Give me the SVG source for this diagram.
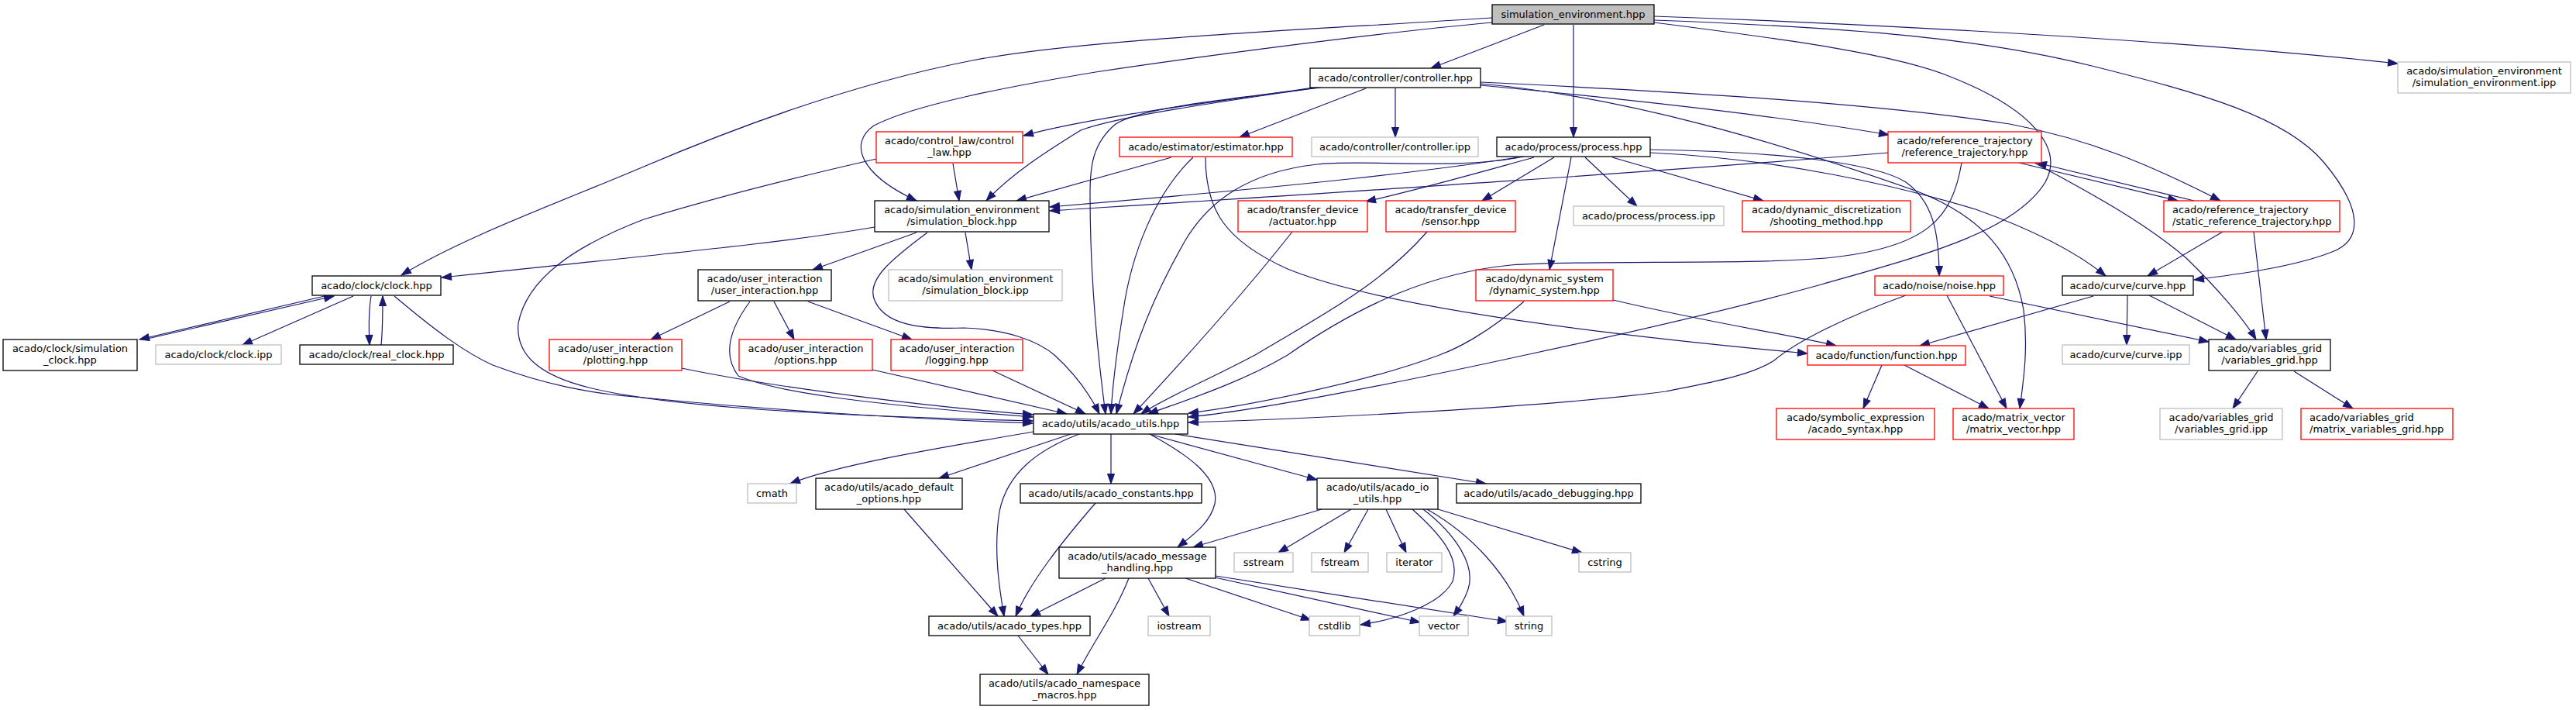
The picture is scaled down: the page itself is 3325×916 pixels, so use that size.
<svg xmlns="http://www.w3.org/2000/svg" width="3325" height="916" viewBox="0 0 3325 916">
<style>
text{font-family:"DejaVu Sans","Liberation Sans",sans-serif;font-size:13px;fill:#000;text-anchor:middle}
text.l{text-anchor:start}
rect{fill:#fff;stroke-width:1.3}
.k rect{stroke:#000}
.g rect{stroke:#bfbfbf}
.r rect{stroke:#ff0000}
.t rect{fill:#bfbfbf;stroke:#000}
#edges path{fill:none;stroke:#191970;stroke-width:1.2;marker-end:url(#ah)}
</style>
<defs>
<marker id="ah" markerUnits="userSpaceOnUse" markerWidth="14" markerHeight="11" refX="12.5" refY="4.5" orient="auto" overflow="visible">
<path d="M0,0 L12.5,4.5 L0,9 z" fill="#191970" stroke="#191970" stroke-width="1"/>
</marker>
</defs>
<rect x="0" y="0" width="3325" height="916" style="fill:#fff;stroke:none"/>
<g id="edges">
<path d="M1926,23 C1700,38 1400,50 1255,78 C1110,106 960,160 831,215 C720,262 600,305 518,355"/>
<path d="M1926,29 C1750,45 1500,80 1414,93 C1300,112 1180,135 1128,162 C1095,185 1110,225 1183,259"/>
<path d="M1993,32 L1847,88"/>
<path d="M2031,32 L2031,177"/>
<path d="M2135,21 C2450,32 2850,55 3095,82"/>
<path d="M2135,26 C2400,36 2560,50 2700,85 C2840,120 2950,150 3000,210 C3050,270 3050,310 3010,325 C2960,345 2880,355 2832,361"/>
<path d="M2135,29 C2300,50 2450,70 2520,100 C2620,140 2665,190 2640,235 C2600,300 2480,330 2351,367 C2250,395 2100,430 1969,458 C1800,495 1620,530 1534,538"/>
<path d="M1695,113 C1600,128 1420,148 1321,175"/>
<path d="M1700,113 C1600,128 1450,148 1395,168 C1360,190 1310,220 1273,259"/>
<path d="M1705,113 C1580,128 1470,140 1440,160 C1410,185 1407,215 1407,250 C1407,340 1413,430 1427,534"/>
<path d="M1763,114 L1600,177"/>
<path d="M1801,114 L1801,177"/>
<path d="M1911,110 C2100,128 2300,150 2438,174"/>
<path d="M1911,106 C2100,115 2400,130 2594,160 C2700,180 2780,215 2866,259"/>
<path d="M1911,108 C2100,125 2300,185 2475,247 C2560,280 2600,330 2612,400 C2618,450 2612,490 2607,527"/>
<path d="M1959,203 C1850,220 1700,238 1355,267"/>
<path d="M2438,197 C2100,225 1700,250 1355,272"/>
<path d="M1980,203 C1900,225 1830,245 1763,260"/>
<path d="M2006,203 L1913,259"/>
<path d="M2046,203 L2113,266"/>
<path d="M2081,203 L2276,259"/>
<path d="M2028,203 L2000,348"/>
<path d="M2130,193 C2300,196 2420,210 2460,235 C2495,260 2503,300 2503,356"/>
<path d="M2130,197 C2300,205 2450,240 2550,270 C2620,295 2680,325 2718,356"/>
<path d="M1967,202 C1880,220 1760,205 1700,212 C1610,222 1560,260 1530,310 C1490,380 1465,440 1441,534"/>
<path d="M1668,299 C1620,360 1560,430 1463,534"/>
<path d="M1842,299 C1780,370 1700,410 1620,458 C1560,490 1500,515 1473,534"/>
<path d="M1967,389 C1920,430 1880,450 1858,458 C1760,495 1600,525 1534,533"/>
<path d="M2082,387 C2200,415 2300,430 2370,446"/>
<path d="M1512,203 L1312,259"/>
<path d="M1540,203 C1490,250 1460,330 1450,400 C1442,450 1436,495 1434,534"/>
<path d="M1556,203 C1556,270 1580,310 1662,347 C1780,395 2050,430 2333,456"/>
<path d="M2532,210 C2520,280 2490,320 2357,333 C2250,342 2050,335 1950,342 C1850,352 1760,390 1662,458 C1600,495 1520,520 1482,534"/>
<path d="M2606,210 L2811,259"/>
<path d="M2832,259 L2629,210"/>
<path d="M2626,210 C2680,240 2760,280 2822,333 C2860,370 2895,410 2912,438"/>
<path d="M2869,299 L2772,356"/>
<path d="M2909,299 L2925,438"/>
<path d="M2746,381 L2745,445"/>
<path d="M2774,381 L2886,438"/>
<path d="M2702,382 L2478,446"/>
<path d="M2460,381 C2380,410 2320,440 2290,465 C2260,485 2200,495 2150,505 C2000,525 1700,540 1534,545"/>
<path d="M2513,381 L2590,527"/>
<path d="M2568,382 L2851,441"/>
<path d="M2429,471 L2405,527"/>
<path d="M2458,471 L2567,527"/>
<path d="M2914,479 L2882,527"/>
<path d="M2961,479 L3037,527"/>
<path d="M1129,293 C1000,315 850,328 570,358"/>
<path d="M1183,300 L1049,348"/>
<path d="M1246,300 L1254,348"/>
<path d="M1197,300 C1150,335 1120,360 1128,385 C1140,420 1190,425 1244,423 C1300,425 1340,440 1361,458 C1385,480 1405,505 1419,534"/>
<path d="M1230,211 L1238,259"/>
<path d="M1131,205 C1000,235 900,262 831,283 C740,318 680,360 669,417 C665,460 700,485 760,500 C840,520 1000,535 1333,543"/>
<path d="M509,382 C560,425 600,455 636,471 C700,495 760,508 831,513 C950,525 1150,540 1333,546"/>
<path d="M419,382 L180,438"/>
<path d="M186,438 L431,382"/>
<path d="M456,382 L313,445"/>
<path d="M479,382 C476,400 476,425 477,445"/>
<path d="M492,445 C494,425 494,400 494,382"/>
<path d="M942,389 L840,438"/>
<path d="M999,389 L1025,438"/>
<path d="M1043,389 L1177,438"/>
<path d="M968,389 C945,420 930,455 953,485 C1000,505 1100,520 1333,538"/>
<path d="M880,475 C1000,500 1200,525 1333,535"/>
<path d="M1126,477 L1377,534"/>
<path d="M1281,478 L1401,534"/>
<path d="M1434,560 L1434,624"/>
<path d="M1484,560 C1530,585 1575,615 1568,650 C1562,675 1540,690 1520,706"/>
<path d="M1487,561 L1700,619"/>
<path d="M1517,560 L1918,624"/>
<path d="M1393,560 C1340,580 1300,610 1290,660 C1282,710 1290,760 1296,795"/>
<path d="M1382,560 L1212,617"/>
<path d="M1334,557 C1200,580 1080,600 1020,624"/>
<path d="M1706,657 L1540,706"/>
<path d="M1744,657 L1650,713"/>
<path d="M1766,657 L1735,713"/>
<path d="M1789,657 L1815,713"/>
<path d="M1823,657 C1860,690 1885,720 1875,750 C1860,780 1800,800 1756,806"/>
<path d="M1837,657 C1880,690 1905,730 1895,760 C1890,775 1883,785 1876,795"/>
<path d="M1842,657 C1900,690 1945,740 1967,795"/>
<path d="M1856,657 L2042,713"/>
<path d="M1427,746 L1330,795"/>
<path d="M1457,746 C1440,790 1410,830 1390,870"/>
<path d="M1482,746 L1509,795"/>
<path d="M1530,746 L1692,800"/>
<path d="M1568,745 L1833,803"/>
<path d="M1569,743 L1946,802"/>
<path d="M1314,820 L1353,870"/>
<path d="M1167,657 L1288,795"/>
<path d="M1414,649 C1370,700 1330,750 1311,795"/>
</g>
<g id="n_top" class="t"><rect x="1926" y="6" width="209" height="25"/><text x="2030.5" y="22.5">simulation_environment.hpp</text></g>
<g id="n_controller" class="k"><rect x="1691" y="88" width="220" height="25"/><text x="1801" y="104.5">acado/controller/controller.hpp</text></g>
<g id="n_controller_ipp" class="g"><rect x="1693" y="177" width="215" height="25"/><text x="1800.5" y="193.5">acado/controller/controller.ipp</text></g>
<g id="n_process" class="k"><rect x="1932" y="177" width="198" height="25"/><text x="2031" y="193.5">acado/process/process.hpp</text></g>
<g id="n_simenv_ipp" class="g"><rect x="3095" y="80" width="223" height="40"/><text x="3206.5" y="96">acado/simulation_environment</text><text x="3206.5" y="110.5">/simulation_environment.ipp</text></g>
<g id="n_control_law" class="r"><rect x="1131" y="170" width="189" height="40"/><text x="1225.5" y="186">acado/control_law/control</text><text x="1225.5" y="200.5">_law.hpp</text></g>
<g id="n_estimator" class="r"><rect x="1445" y="177" width="223" height="25"/><text x="1556.5" y="193.5">acado/estimator/estimator.hpp</text></g>
<g id="n_ref_traj" class="r"><rect x="2437" y="170" width="198" height="40"/><text x="2536" y="186">acado/reference_trajectory</text><text x="2536" y="200.5">/reference_trajectory.hpp</text></g>
<g id="n_sim_block" class="k"><rect x="1129" y="259" width="225" height="40"/><text x="1241.5" y="275">acado/simulation_environment</text><text x="1241.5" y="289.5">/simulation_block.hpp</text></g>
<g id="n_actuator" class="r"><rect x="1598" y="259" width="167" height="40"/><text x="1681.5" y="275">acado/transfer_device</text><text x="1681.5" y="289.5">/actuator.hpp</text></g>
<g id="n_sensor" class="r"><rect x="1789" y="259" width="167" height="40"/><text x="1872.5" y="275">acado/transfer_device</text><text x="1872.5" y="289.5">/sensor.hpp</text></g>
<g id="n_process_ipp" class="g"><rect x="2031" y="266" width="194" height="25"/><text x="2128" y="282.5">acado/process/process.ipp</text></g>
<g id="n_shooting" class="r"><rect x="2249" y="259" width="217" height="40"/><text x="2357.5" y="275">acado/dynamic_discretization</text><text x="2357.5" y="289.5">/shooting_method.hpp</text></g>
<g id="n_static_ref" class="r"><rect x="2793" y="259" width="227" height="40"/><text class="l" x="2804" y="275">acado/reference_trajectory</text><text class="l" x="2804" y="289.5">/static_reference_trajectory.hpp</text></g>
<g id="n_clock" class="k"><rect x="403" y="356" width="166" height="25"/><text x="486" y="372.5">acado/clock/clock.hpp</text></g>
<g id="n_user_interaction" class="k"><rect x="901" y="348" width="172" height="40"/><text x="987" y="364">acado/user_interaction</text><text x="987" y="378.5">/user_interaction.hpp</text></g>
<g id="n_sim_block_ipp" class="g"><rect x="1147" y="348" width="224" height="40"/><text x="1259" y="364">acado/simulation_environment</text><text x="1259" y="378.5">/simulation_block.ipp</text></g>
<g id="n_dynamic_system" class="r"><rect x="1905" y="348" width="177" height="40"/><text x="1993.5" y="364">acado/dynamic_system</text><text x="1993.5" y="378.5">/dynamic_system.hpp</text></g>
<g id="n_noise" class="r"><rect x="2420" y="356" width="166" height="25"/><text x="2503" y="372.5">acado/noise/noise.hpp</text></g>
<g id="n_curve" class="k"><rect x="2662" y="356" width="169" height="25"/><text x="2746.5" y="372.5">acado/curve/curve.hpp</text></g>
<g id="n_sim_clock" class="k"><rect x="4" y="438" width="173" height="40"/><text x="90.5" y="454">acado/clock/simulation</text><text x="90.5" y="468.5">_clock.hpp</text></g>
<g id="n_clock_ipp" class="g"><rect x="201" y="445" width="162" height="25"/><text x="282" y="461.5">acado/clock/clock.ipp</text></g>
<g id="n_real_clock" class="k"><rect x="387" y="445" width="198" height="25"/><text x="486" y="461.5">acado/clock/real_clock.hpp</text></g>
<g id="n_plotting" class="r"><rect x="709" y="438" width="171" height="40"/><text x="794.5" y="454">acado/user_interaction</text><text x="794.5" y="468.5">/plotting.hpp</text></g>
<g id="n_options" class="r"><rect x="954" y="438" width="172" height="40"/><text x="1040" y="454">acado/user_interaction</text><text x="1040" y="468.5">/options.hpp</text></g>
<g id="n_logging" class="r"><rect x="1150" y="438" width="170" height="40"/><text x="1235" y="454">acado/user_interaction</text><text x="1235" y="468.5">/logging.hpp</text></g>
<g id="n_function" class="r"><rect x="2333" y="446" width="204" height="25"/><text x="2435" y="462.5">acado/function/function.hpp</text></g>
<g id="n_curve_ipp" class="g"><rect x="2662" y="445" width="164" height="25"/><text x="2744" y="461.5">acado/curve/curve.ipp</text></g>
<g id="n_variables_grid" class="k"><rect x="2851" y="438" width="157" height="40"/><text x="2929.5" y="454">acado/variables_grid</text><text x="2929.5" y="468.5">/variables_grid.hpp</text></g>
<g id="n_acado_utils" class="k"><rect x="1334" y="534" width="199" height="26"/><text x="1433.5" y="551">acado/utils/acado_utils.hpp</text></g>
<g id="n_syntax" class="r"><rect x="2293" y="527" width="204" height="40"/><text x="2395" y="543">acado/symbolic_expression</text><text x="2395" y="557.5">/acado_syntax.hpp</text></g>
<g id="n_matrix_vector" class="r"><rect x="2521" y="527" width="156" height="40"/><text x="2599" y="543">acado/matrix_vector</text><text x="2599" y="557.5">/matrix_vector.hpp</text></g>
<g id="n_vg_ipp" class="g"><rect x="2788" y="527" width="158" height="40"/><text x="2867" y="543">acado/variables_grid</text><text x="2867" y="557.5">/variables_grid.ipp</text></g>
<g id="n_matrix_vg" class="r"><rect x="2970" y="527" width="196" height="40"/><text class="l" x="2981" y="543">acado/variables_grid</text><text class="l" x="2981" y="557.5">/matrix_variables_grid.hpp</text></g>
<g id="n_cmath" class="g"><rect x="965" y="624" width="63" height="25"/><text x="996.5" y="640.5">cmath</text></g>
<g id="n_default_options" class="k"><rect x="1053" y="617" width="189" height="40"/><text x="1147.5" y="633">acado/utils/acado_default</text><text x="1147.5" y="647.5">_options.hpp</text></g>
<g id="n_constants" class="k"><rect x="1317" y="624" width="234" height="25"/><text x="1434" y="640.5">acado/utils/acado_constants.hpp</text></g>
<g id="n_io_utils" class="k"><rect x="1700" y="617" width="156" height="40"/><text x="1778" y="633">acado/utils/acado_io</text><text x="1778" y="647.5">_utils.hpp</text></g>
<g id="n_debugging" class="k"><rect x="1880" y="624" width="238" height="25"/><text x="1999" y="640.5">acado/utils/acado_debugging.hpp</text></g>
<g id="n_message" class="k"><rect x="1367" y="706" width="202" height="40"/><text x="1468" y="722">acado/utils/acado_message</text><text x="1468" y="736.5">_handling.hpp</text></g>
<g id="n_sstream" class="g"><rect x="1593" y="713" width="76" height="25"/><text x="1631" y="729.5">sstream</text></g>
<g id="n_fstream" class="g"><rect x="1693" y="713" width="73" height="25"/><text x="1729.5" y="729.5">fstream</text></g>
<g id="n_iterator" class="g"><rect x="1790" y="713" width="71" height="25"/><text x="1825.5" y="729.5">iterator</text></g>
<g id="n_cstring" class="g"><rect x="2038" y="713" width="67" height="25"/><text x="2071.5" y="729.5">cstring</text></g>
<g id="n_types" class="k"><rect x="1199" y="795" width="208" height="25"/><text x="1303" y="811.5">acado/utils/acado_types.hpp</text></g>
<g id="n_iostream" class="g"><rect x="1482" y="795" width="80" height="25"/><text x="1522" y="811.5">iostream</text></g>
<g id="n_cstdlib" class="g"><rect x="1690" y="795" width="65" height="25"/><text x="1722.5" y="811.5">cstdlib</text></g>
<g id="n_vector" class="g"><rect x="1832" y="795" width="63" height="25"/><text x="1863.5" y="811.5">vector</text></g>
<g id="n_string" class="g"><rect x="1944" y="795" width="59" height="25"/><text x="1973.5" y="811.5">string</text></g>
<g id="n_namespace" class="k"><rect x="1265" y="870" width="218" height="40"/><text x="1374" y="886">acado/utils/acado_namespace</text><text x="1374" y="900.5">_macros.hpp</text></g>
</svg>
